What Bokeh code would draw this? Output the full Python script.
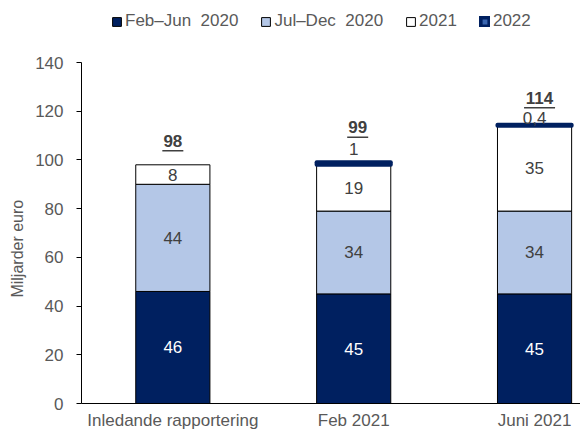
from bokeh.plotting import figure
from bokeh.models import ColumnDataSource, Range1d, FixedTicker, Legend, LegendItem
from bokeh.core.properties import value
from bokeh.embed import file_html
from bokeh.resources import INLINE

# ---- data ----
categories = ["Inledande rapportering", "Feb 2021", "Juni 2021"]
feb_jun_2020 = [46, 45, 45]
jul_dec_2020 = [44, 34, 34]
y2021 = [8, 19, 35]
y2022 = [0, 1, 0.4]
totals = [98, 99, 114]
y_ticks = [0, 20, 40, 60, 80, 100, 120, 140]
series_names = ["Feb\u2013Jun  2020", "Jul\u2013Dec  2020", "2021", "2022"]
y_title = "Miljarder euro"

FONT = value("Liberation Sans")
NAVY = "#002060"
LIGHT = "#B4C7E7"
GRAY = "#595959"
DARK = "#404040"

xs = list(range(len(categories)))
b1 = [0] * 3
t1 = [a for a in feb_jun_2020]
t2 = [a + b for a, b in zip(t1, jul_dec_2020)]
t3 = [a + b for a, b in zip(t2, y2021)]
t4 = [a + b for a, b in zip(t3, y2022)]

FRAME_H = 403          # frame spans the full height above the x axis
AXIS_PX = 341          # pixels used by the 0..140 axis
Y_MAX = 140
y_end = Y_MAX * FRAME_H / AXIS_PX

p = figure(width=580, height=432,
           x_range=Range1d(-0.505, 2.254), y_range=Range1d(0, y_end),
           output_backend="svg", toolbar_location=None,
           min_border_left=81, min_border_right=0,
           min_border_top=0, min_border_bottom=29)
p.outline_line_color = None
p.xgrid.visible = False
p.ygrid.visible = False

W = 0.41
r1 = p.vbar(x=xs, bottom=b1, top=t1, width=W, fill_color=NAVY, line_color="#000000", line_width=1)
r2 = p.vbar(x=xs, bottom=t1, top=t2, width=W, fill_color=LIGHT, line_color="#000000", line_width=1)
r3 = p.vbar(x=xs, bottom=t2, top=t3, width=W, fill_color="white", line_color="#000000", line_width=1)
idx22 = [i for i in xs if y2022[i] > 0]
r4 = p.vbar(x=[xs[i] for i in idx22], bottom=[t3[i] for i in idx22], top=[t4[i] for i in idx22],
            width=W, fill_color="#3A66B0", line_color=NAVY, line_width=4, line_join="round")

def fmt(v):
    return ("%g" % v).replace(".", ",")

LBL = "17px"
p.text(x=xs, y=[(a + b) / 2 for a, b in zip(b1, t1)], text=[fmt(v) for v in feb_jun_2020],
       text_align="center", text_baseline="middle", text_color="white",
       text_font=FONT, text_font_size=LBL)
p.text(x=xs, y=[(a + b) / 2 for a, b in zip(t1, t2)], text=[fmt(v) for v in jul_dec_2020],
       text_align="center", text_baseline="middle", text_color=DARK,
       text_font=FONT, text_font_size=LBL)
p.text(x=xs, y=[(a + b) / 2 for a, b in zip(t2, t3)], text=[fmt(v) for v in y2021],
       text_align="center", text_baseline="middle", text_color=DARK,
       text_font=FONT, text_font_size=LBL)
src22 = ColumnDataSource(dict(x=[xs[i] for i in idx22], y=[t4[i] for i in idx22],
                              t=[fmt(y2022[i]) for i in idx22], off=[-13, -7]))
p.text(x="x", y="y", text="t", y_offset="off", source=src22,
       text_align="center", text_baseline="middle", text_color=DARK,
       text_font=FONT, text_font_size=LBL)

# totals (bold, underlined)
ppu = AXIS_PX / Y_MAX
ppx = 499 / 2.759
tot_off = [-24, -35, -27]
tot_dx = [0, 4, 5]
tops = [max(a, b) for a, b in zip(t3, t4)]
tot_y = [t - o / ppu for t, o in zip(tops, tot_off)]
tot_x = [x + d / ppx for x, d in zip(xs, tot_dx)]
p.text(x=tot_x, y=tot_y, text=[str(v) for v in totals],
       text_align="center", text_baseline="middle", text_color=DARK,
       text_font=FONT, text_font_size=LBL, text_font_style="bold")
half = [(5.0 * len(str(v)) + 0.5) / ppx for v in totals]
ul_y = [y - 10 / ppu for y in tot_y]
p.segment(x0=[x - h for x, h in zip(tot_x, half)], x1=[x + h for x, h in zip(tot_x, half)],
          y0=ul_y, y1=ul_y, line_color=DARK, line_width=1.5)

# axes
ya = p.yaxis[0]
ya.ticker = FixedTicker(ticks=y_ticks)
ya.bounds = (0, Y_MAX)
ya.major_tick_in = 0
ya.major_tick_out = 5
ya.minor_tick_in = 0
ya.minor_tick_out = 0
ya.axis_line_color = "#000000"
ya.major_tick_line_color = "#000000"
ya.major_label_text_color = GRAY
ya.major_label_text_font = "Liberation Sans"
ya.major_label_text_font_size = "17px"
ya.major_label_standoff = 13
# trailing no-break spaces shift the centred title down beside the 0..140 scale
ya.axis_label = y_title + "\u00a0" * 21
ya.axis_label_text_font = "Liberation Sans"
ya.axis_label_text_font_style = "normal"
ya.axis_label_text_font_size = "16px"
ya.axis_label_text_color = GRAY
ya.axis_label_standoff = 6

xa = p.xaxis[0]
xa.ticker = FixedTicker(ticks=xs)
xa.major_label_overrides = {i: c for i, c in zip(xs, categories)}
xa.major_tick_in = 0
xa.major_tick_out = 0
xa.minor_tick_in = 0
xa.minor_tick_out = 0
xa.axis_line_color = "#000000"
xa.major_label_text_color = GRAY
xa.major_label_text_font = "Liberation Sans"
xa.major_label_text_font_size = "17px"
xa.major_label_standoff = 7

legend = Legend(items=[LegendItem(label=series_names[0], renderers=[r1]),
                       LegendItem(label=series_names[1], renderers=[r2]),
                       LegendItem(label=series_names[2], renderers=[r3]),
                       LegendItem(label=series_names[3], renderers=[r4])],
                orientation="horizontal", location=(30, 372),
                glyph_width=11, glyph_height=11, label_standoff=3, spacing=22,
                label_height=16, padding=2, margin=0,
                border_line_color=None, background_fill_alpha=0,
                label_text_font="Liberation Sans", label_text_font_size="17px",
                label_text_color=GRAY)
p.add_layout(legend, "center")

open("out.html", "w").write(file_html(p, INLINE))
